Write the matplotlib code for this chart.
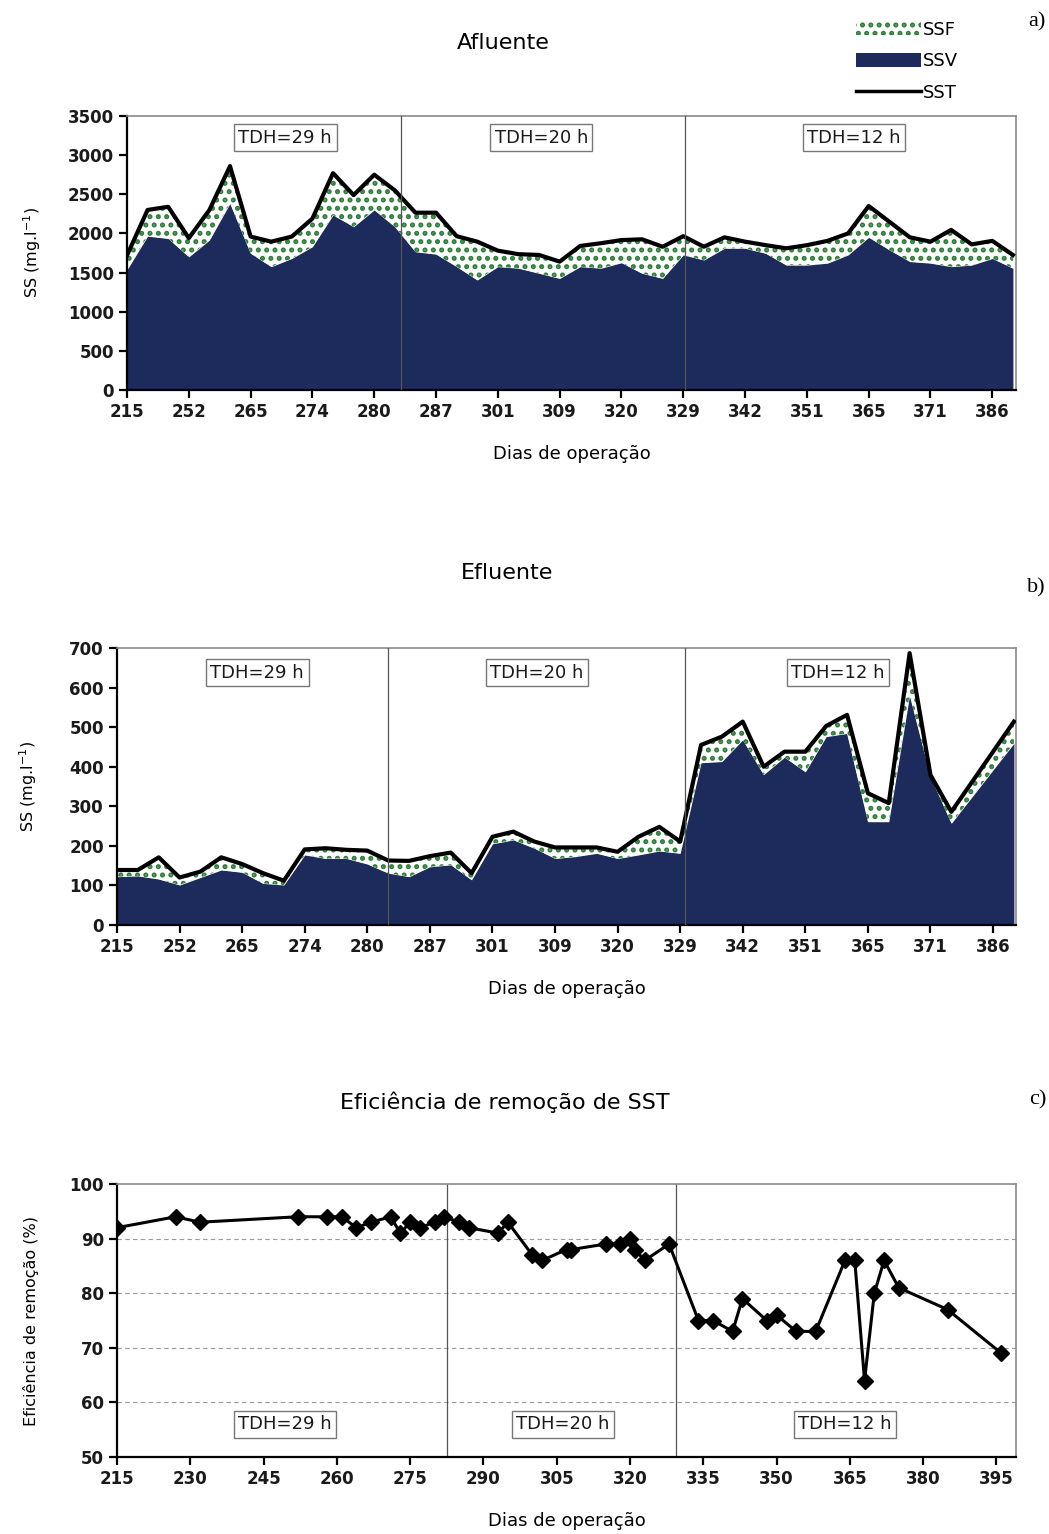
import numpy as np
import matplotlib
matplotlib.use('Agg')
import matplotlib.pyplot as plt
from matplotlib.patches import Patch
from matplotlib.lines import Line2D

#### dados: afluente / efluente (SST total e SSV volátil, mg/l)
dias_lbl = ['215', '252', '265', '274', '280', '287', '301', '309', '320',
            '329', '342', '351', '365', '371', '386']

sst_afl = [1720, 2300, 2340, 1940, 2300, 2860, 1960, 1895, 1960, 2190, 2770,
           2490, 2750, 2550, 2265, 2265, 1965, 1895, 1780, 1735, 1725, 1640,
           1840, 1875, 1915, 1925, 1830, 1965, 1830, 1950, 1895, 1850, 1810,
           1850, 1905, 2000, 2350, 2150, 1950, 1895, 2045, 1860, 1905, 1725]
ssv_afl = [1535, 1965, 1935, 1700, 1915, 2385, 1745, 1575, 1680, 1830, 2235,
           2085, 2300, 2085, 1765, 1735, 1575, 1405, 1575, 1555, 1490, 1425,
           1575, 1555, 1625, 1490, 1425, 1725, 1660, 1810, 1810, 1745, 1595,
           1595, 1620, 1725, 1950, 1790, 1640, 1620, 1575, 1595, 1680, 1555]

sst_efl = [139, 139, 171, 120, 135, 171, 154, 131, 112, 191, 194, 190, 188,
           163, 162, 174, 183, 131, 223, 236, 211, 196, 196, 196, 185, 223,
           248, 211, 455, 476, 514, 400, 438, 438, 503, 531, 333, 308, 687,
           379, 286, None, None, 514]
ssv_efl = [122, 124, 116, 101, 120, 139, 133, 105, 101, 177, 168, 168, 154,
           131, 122, 147, 152, 114, 205, 215, 194, 168, 173, 181, 168, 177,
           187, 181, 410, 413, 468, 380, 424, 387, 476, 484, 261, 261, 581,
           375, 257, None, None, 459]

#### eficiencia de remocao de SST (%)
dias_ef = [215, 227, 232, 252, 258, 261, 264, 267, 271, 273, 275, 277, 280,
           282, 285, 287, 293, 295, 300, 302, 307, 308, 315, 318, 320, 321,
           323, 328, 334, 337, 341, 343, 348, 350, 354, 358, 364, 366, 368,
           370, 372, 375, 385, 396]
efic = [92, 94, 93, 94, 94, 94, 92, 93, 94, 91, 93, 92, 93, 94, 93, 92, 91,
        93, 87, 86, 88, 88, 89, 89, 90, 88, 86, 89, 75, 75, 73, 79, 75, 76,
        73, 73, 86, 86, 64, 80, 86, 81, 77, 69]

tdh = ['TDH=29 h', 'TDH=20 h', 'TDH=12 h']

navy = '#1c2a5c'
verde = '#2f7d3a'
FONT = 'DejaVu Sans'
plt.rcParams['font.family'] = FONT
plt.rcParams['hatch.linewidth'] = 2.4

W, H = 1049, 1534
fig = plt.figure(figsize=(W / 100, H / 100), dpi=100)


def box(px0, py0, px1, py1):
    return [px0 / W, 1 - py1 / H, (px1 - px0) / W, (py1 - py0) / H]


def estilo(ax):
    for s in ['left', 'bottom']:
        ax.spines[s].set_color('black')
        ax.spines[s].set_linewidth(1.6)
    for s in ['top', 'right']:
        ax.spines[s].set_color('#8a8a8a')
        ax.spines[s].set_linewidth(1.2)
    ax.tick_params(direction='out', length=6, width=1.6, labelsize=12,
                   top=False, right=False)
    for t in ax.get_xticklabels() + ax.get_yticklabels():
        t.set_fontweight('bold')
        t.set_color('#1a1a1a')


def tdh_box(ax, x, y, txt):
    ax.text(x, y, txt, transform=ax.transAxes, ha='center', va='center',
            fontsize=13, color='#1a1a1a',
            bbox=dict(boxstyle='square,pad=0.25', fc='white', ec='#777777', lw=1))


def area(ax, sst, ssv):
    idx = [i for i, v in enumerate(sst) if v is not None]
    x = np.array(idx)
    t = np.array([sst[i] for i in idx], dtype=float)
    v = np.array([ssv[i] for i in idx], dtype=float)
    ax.fill_between(x, 0, v, color=navy, lw=0, zorder=2)
    ax.fill_between(x, v, t, facecolor='white', edgecolor=verde, hatch='..',
                    lw=0, zorder=2)
    ax.plot(x, t, color='black', lw=3, zorder=3)


def titulo(px, py, s):
    fig.text(px / W, 1 - py / H, s, ha='center', va='center', fontsize=16)


#### a) afluente
ax1 = fig.add_axes(box(127, 116, 1016, 390))
area(ax1, sst_afl, ssv_afl)
ax1.set_xlim(0, 43.15)
ax1.set_ylim(0, 3500)
ax1.set_yticks(np.arange(0, 3501, 500))
ax1.set_xticks(np.arange(0, 43, 3))
ax1.set_xticklabels(dias_lbl)
for xv in [13.3, 27.1]:
    ax1.axvline(xv, color='#555555', lw=0.9, zorder=4)
estilo(ax1)
ax1.set_xlabel('Dias de operação', fontsize=13, labelpad=17)
ax1.set_ylabel('SS (mg.l$^{-1}$)', fontsize=11.5, labelpad=18)
titulo(503, 43, 'Afluente')
for x, t in zip([0.178, 0.466, 0.818], tdh):
    tdh_box(ax1, x, 0.92, t)

fig.legend(handles=[Patch(facecolor='white', edgecolor=verde, hatch='..', lw=0),
                    Patch(facecolor=navy, lw=0),
                    Line2D([], [], color='black', lw=2.5)],
           labels=['SSF', 'SSV', 'SST'], loc='upper left',
           bbox_to_anchor=(843 / W, 1 - 8 / H), frameon=False, fontsize=13,
           handlelength=3.6, handleheight=0.8, handletextpad=0.1,
           labelspacing=0.75, borderpad=0.2)

#### b) efluente
ax2 = fig.add_axes(box(117, 648, 1016, 925))
area(ax2, sst_efl, ssv_efl)
ax2.set_xlim(0, 43.1)
ax2.set_ylim(0, 700)
ax2.set_yticks(np.arange(0, 701, 100))
ax2.set_xticks(np.arange(0, 43, 3))
ax2.set_xticklabels(dias_lbl)
for xv in [13.0, 27.25]:
    ax2.axvline(xv, color='#555555', lw=0.9, zorder=4)
estilo(ax2)
ax2.set_xlabel('Dias de operação', fontsize=13, labelpad=17)
ax2.set_ylabel('SS (mg.l$^{-1}$)', fontsize=11.5, labelpad=22)
titulo(507, 573, 'Efluente')
for x, t in zip([0.156, 0.467, 0.802], tdh):
    tdh_box(ax2, x, 0.91, t)

#### c) eficiencia
ax3 = fig.add_axes(box(117, 1184, 1016, 1457))
ax3.plot(dias_ef, efic, color='black', lw=2.2, marker='D', ms=8, zorder=3)
ax3.set_xlim(215, 399)
ax3.set_ylim(50, 100)
ax3.set_xticks(np.arange(215, 396, 15))
ax3.set_yticks(np.arange(50, 101, 10))
for yv in [60, 70, 80, 90]:
    ax3.axhline(yv, color='#9a9a9a', lw=0.8, ls=(0, (4, 3)), zorder=1)
for xv in [282.5, 329.5]:
    ax3.axvline(xv, color='#555555', lw=0.9, zorder=2)
estilo(ax3)
ax3.set_xlabel('Dias de operação', fontsize=13, labelpad=17)
ax3.set_ylabel('Eficiência de remoção (%)', fontsize=11.5, labelpad=22)
titulo(505, 1102, 'Eficiência de remoção de SST')
for x, t in zip([0.187, 0.496, 0.810], tdh):
    tdh_box(ax3, x, 0.12, t)

#### letras dos paineis
for y, s in [(22, 'a)'), (588, 'b)'), (1100, 'c)')]:
    fig.text(1046 / W, 1 - y / H, s, ha='right', va='center', fontsize=16,
             family='Liberation Serif')

fig.savefig('out.png', dpi=100)
